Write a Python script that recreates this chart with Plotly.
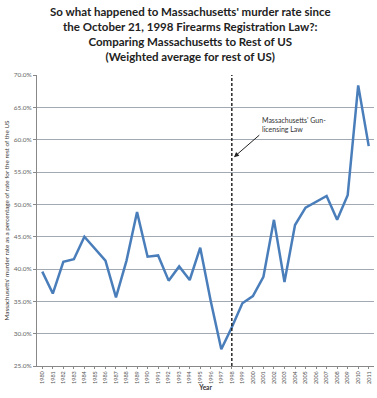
import plotly.graph_objects as go

years = list(range(1980, 2012))
ma_pct = [39.6, 36.2, 41.1, 41.5, 45.0, 43.2, 41.3, 35.6, 41.3, 48.8,
          41.9, 42.1, 38.2, 40.4, 38.3, 43.3, 35.0, 27.6, 31.0, 34.7,
          35.8, 38.8, 47.6, 38.0, 46.8, 49.5, 50.4, 51.3, 47.6, 51.4,
          68.4, 59.0]
y_ticks = [25, 30, 35, 40, 45, 50, 55, 60, 65, 70]
law_year = 1998

title_lines = ["So what happened to Massachusetts' murder rate since",
               "the October 21, 1998 Firearms Registration Law?:",
               "Comparing Massachusetts to Rest of US",
               "(Weighted average for rest of US)"]

W, H = 377, 398
ML, MR, MT, MB = 37, 3, 75, 32

fig = go.Figure()
fig.add_trace(go.Scatter(x=years, y=ma_pct, mode="lines",
                         line=dict(color="#4A7EBB", width=2.5),
                         showlegend=False, hoverinfo="x+y"))

fig.add_shape(type="line", xref="x", yref="paper", x0=law_year, x1=law_year,
              y0=0, y1=1, line=dict(color="#1a1a1a", width=1.4, dash="3px,2px"))

fig.add_annotation(x=1998.2, y=57.3, ax=2000.75, ay=60.9, xref="x", yref="y",
                   axref="x", ayref="y", showarrow=True, arrowhead=2,
                   arrowsize=1, arrowwidth=1, arrowcolor="#222", text="")
fig.add_annotation(x=2000.7, y=64.0, xref="x", yref="y", xanchor="left",
                   yanchor="top", align="left", showarrow=False,
                   text="Massachusetts' Gun-<br>licensing Law",
                   font=dict(family="Lato", size=7, color="#333"))

plot_h = H - MT - MB
fig.add_annotation(x=0.455, y=1 + (MT - 3) / plot_h, xref="paper", yref="paper",
                   xanchor="center", yanchor="top", showarrow=False, align="center",
                   text="<b>" + "<br>".join(title_lines) + "</b>",
                   font=dict(family="Lato", size=11.5, color="#222"))

fig.update_layout(
    width=W, height=H,
    paper_bgcolor="white", plot_bgcolor="white",
    margin=dict(l=ML, r=MR, t=MT, b=MB),
    font=dict(family="Lato"),
)
fig.update_xaxes(range=[1979.5, 2011.5], tickvals=years, ticktext=[str(y) for y in years],
                 tickangle=-90, tickfont=dict(size=5.5, color="#555"),
                 showgrid=False, showline=True, linecolor="#888", linewidth=1,
                 ticks="outside", ticklen=2, tickcolor="#888",
                 title=dict(text="<b>Year</b>", font=dict(size=6.5, color="#333"), standoff=2))
fig.update_yaxes(range=[25, 70], tickvals=y_ticks,
                 ticktext=[f"{v:.1f}%" for v in y_ticks],
                 tickfont=dict(size=6.5, color="#666"),
                 showgrid=True, gridcolor="#a3a9b2", gridwidth=1.3,
                 showline=True, linecolor="#888", linewidth=1,
                 ticks="outside", ticklen=3, tickcolor="#888", zeroline=False,
                 title=dict(text="Massachusetts' murder rate as a percentage of rate for the rest of the US",
                            font=dict(size=6.3, color="#333"), standoff=3))

fig.write_html("out.html", config={"displayModeBar": False},
               post_script="document.body.style.margin='0';document.body.style.overflow='hidden';")
